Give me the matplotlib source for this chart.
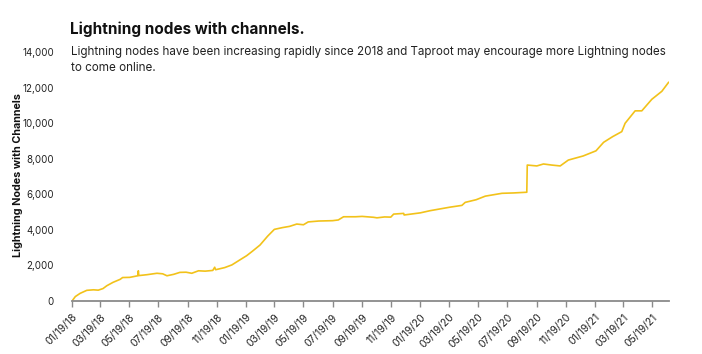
import matplotlib
matplotlib.use("Agg")
import matplotlib.pyplot as plt
import matplotlib.dates as mdates
import pandas as pd

dates = [
    "2018-01-19", "2018-01-26", "2018-02-05", "2018-02-19", "2018-03-05", "2018-03-15",
    "2018-03-25", "2018-04-02", "2018-04-15", "2018-04-30", "2018-05-05", "2018-05-20",
    "2018-06-06", "2018-06-07", "2018-06-08", "2018-06-25", "2018-07-16", "2018-07-28",
    "2018-08-06", "2018-08-20", "2018-09-02", "2018-09-15", "2018-09-27", "2018-10-11",
    "2018-10-25", "2018-11-10", "2018-11-14", "2018-11-16", "2018-12-05", "2018-12-20",
    "2019-01-05", "2019-01-20", "2019-02-01", "2019-02-17", "2019-03-05", "2019-03-19",
    "2019-04-05", "2019-04-20", "2019-05-05", "2019-05-19", "2019-05-29", "2019-06-20",
    "2019-07-19", "2019-07-31", "2019-08-11", "2019-09-05", "2019-09-19", "2019-10-13",
    "2019-10-20", "2019-11-05", "2019-11-18", "2019-11-24", "2019-12-15", "2019-12-16",
    "2020-01-19", "2020-02-08", "2020-03-21", "2020-04-15", "2020-04-22", "2020-05-15",
    "2020-06-03", "2020-07-08", "2020-08-01", "2020-08-29", "2020-08-30", "2020-09-19",
    "2020-10-03", "2020-10-20", "2020-11-07", "2020-11-24", "2020-12-25", "2021-01-21",
    "2021-02-06", "2021-02-25", "2021-03-16", "2021-03-23", "2021-04-13", "2021-04-27",
    "2021-05-18", "2021-06-08", "2021-06-22",
]
nodes = [
    0, 250, 430, 600, 630, 610,
    700, 860, 1050, 1220, 1320, 1330,
    1420, 1700, 1430, 1480, 1560, 1530,
    1420, 1500, 1610, 1620, 1560, 1700,
    1680, 1720, 1900, 1760, 1880, 2030,
    2300, 2550, 2800, 3150, 3650, 4030,
    4130, 4200, 4330, 4290, 4450, 4500,
    4520, 4560, 4740, 4740, 4760, 4710,
    4680, 4730, 4720, 4890, 4930, 4840,
    4960, 5080, 5280, 5380, 5550, 5700,
    5900, 6060, 6080, 6120, 7650, 7600,
    7710, 7650, 7600, 7930, 8160, 8450,
    8930, 9250, 9530, 10000, 10700, 10700,
    11350, 11800, 12300,
]
tick_dates = ["2018-01-19", "2018-03-19", "2018-05-19", "2018-07-19", "2018-09-19",
              "2018-11-19", "2019-01-19", "2019-03-19", "2019-05-19", "2019-07-19",
              "2019-09-19", "2019-11-19", "2020-01-19", "2020-03-19", "2020-05-19",
              "2020-07-19", "2020-09-19", "2020-11-19", "2021-01-19", "2021-03-19",
              "2021-05-19"]
y_ticks = [0, 2000, 4000, 6000, 8000, 10000, 12000, 14000]

title = "Lightning nodes with channels."
subtitle_lines = ["Lightning nodes have been increasing rapidly since 2018 and Taproot may encourage more Lightning nodes",
                  "to come online."]
ylabel = "Lightning Nodes with Channels"

plt.rcParams['font.family'] = ['Inter', 'DejaVu Sans']

fig = plt.figure(figsize=(7.02, 3.54), dpi=100)
ax = fig.add_axes([72/702, 1-301/354, (669-72)/702, (301-52.2)/354])

x = pd.to_datetime(dates)
ax.plot(x, nodes, color="#F2C21A", lw=1.2, solid_joinstyle="round")

ax.set_xlim(pd.Timestamp("2018-01-19"), pd.Timestamp("2021-06-23"))
ax.set_ylim(0, 14000)
ax.set_yticks(y_ticks)
ax.set_yticklabels([f"{v:,}" for v in y_ticks])
ax.set_xticks(pd.to_datetime(tick_dates))
ax.xaxis.set_major_formatter(mdates.DateFormatter("%m/%d/%y"))
plt.setp(ax.get_xticklabels(), rotation=45, ha="right", rotation_mode="anchor")

for s in ["top", "right", "left"]:
    ax.spines[s].set_visible(False)
ax.spines["bottom"].set_color("#8a8a8a")
ax.spines["bottom"].set_linewidth(1.3)
ax.tick_params(axis="y", length=0, pad=13, labelsize=7, labelcolor="#222222")
ax.tick_params(axis="x", length=4, width=1, color="#8a8a8a", pad=4, labelsize=7.5, labelcolor="#222222")

fig.text(18/702, 1-175/354, ylabel, rotation=90, fontsize=7.8, fontweight="bold",
         ha="center", va="center", color="#111111")

fig.text(70/702, 1-34/354, title, fontsize=11, fontweight="bold", ha="left", va="baseline", color="#111111")
fig.text(71/702, 1-55/354, subtitle_lines[0], fontsize=8.4, ha="left", va="baseline", color="#222222")
fig.text(71/702, 1-71/354, subtitle_lines[1], fontsize=8.4, ha="left", va="baseline", color="#222222")

fig.savefig("out.png", dpi=100, facecolor="white")
